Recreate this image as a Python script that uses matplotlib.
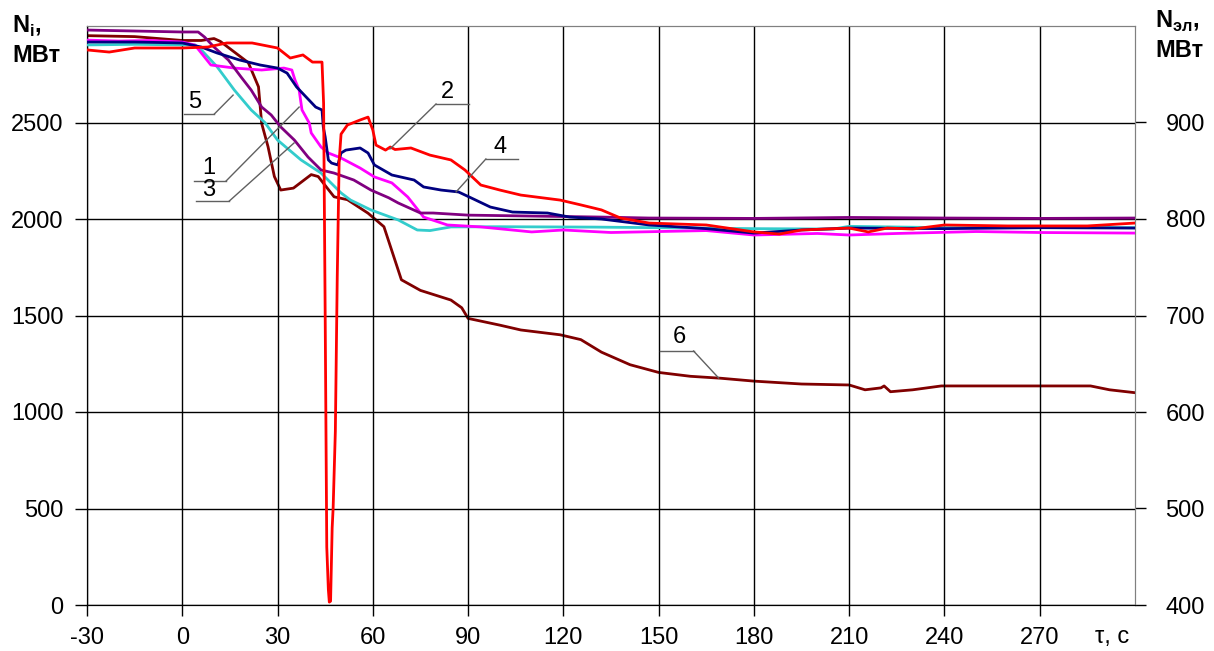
import matplotlib
matplotlib.use("Agg")
import matplotlib.pyplot as plt

plt.rcParams['font.family'] = ['Liberation Sans', 'DejaVu Sans']
plt.rcParams['axes.unicode_minus'] = False
plt.rcParams['mathtext.fontset'] = 'custom'
plt.rcParams['mathtext.rm'] = 'Liberation Sans'
plt.rcParams['mathtext.bf'] = 'Liberation Sans:bold'

# -----------------------------
# Data (time, s / power, MW)
# -----------------------------
# 1 - magenta
t1 = [-30, -20, -10, 0, 4, 9, 16.4, 25, 32, 34.5, 35.5, 36.8, 37.7, 40, 40.6, 43.7, 46, 50, 53,
      56, 60.5, 66, 71, 75, 76, 83.5, 94, 110, 120, 135, 150, 165, 180, 200, 210, 225, 250,
      270, 300]
n1 = [2927, 2922, 2925, 2917, 2901, 2798, 2782, 2772, 2782, 2772, 2720, 2668, 2565, 2497, 2446,
      2373, 2342, 2316, 2290, 2264, 2218, 2187, 2114, 2031, 2010, 1969, 1959, 1933, 1943, 1930,
      1935, 1940, 1917, 1925, 1917, 1925, 1935, 1930, 1927]

# 2 - red
t2 = [-30, -23, -15, 0, 8, 14, 22, 30, 34, 38, 41, 44, 44.5, 45.0, 45.5, 46.0, 46.3, 46.7,
      47.2, 47.5, 48.2, 48.8, 49.4, 50.0, 52, 56, 58.5, 60, 61, 64, 65.5, 67, 72, 78, 84.6,
      89, 94, 100, 106.6, 119, 125.5, 132, 138, 147, 165, 180, 188, 195, 210, 216, 222, 230,
      240, 260, 285, 300]
n2 = [2876, 2865, 2886, 2886, 2891, 2912, 2912, 2886, 2834, 2850, 2813, 2813, 2600, 1500, 300,
      80, 15, 20, 400, 500, 900, 1700, 2300, 2440, 2487, 2513, 2528, 2461, 2383, 2357, 2373,
      2360, 2368, 2331, 2306, 2254, 2176, 2150, 2124, 2098, 2073, 2047, 2005, 1979, 1969, 1933,
      1922, 1943, 1953, 1933, 1953, 1948, 1969, 1964, 1964, 1979]

# 3 - purple
t3 = [-30, -15, 0, 5, 7, 10, 14.5, 18.5, 21.7, 25, 28, 31, 35.3, 39.6, 43.7, 47.8, 54, 59.4,
      65, 68, 75, 79, 90, 132, 147, 180, 210, 240, 270, 300]
n3 = [2979, 2974, 2969, 2969, 2943, 2891, 2824, 2736, 2668, 2580, 2539, 2477, 2409, 2321, 2254,
      2238, 2202, 2150, 2110, 2083, 2031, 2031, 2020, 2010, 2005, 2003, 2008, 2005, 2003, 2005]

# 4 - navy
t4 = [-30, -15, 0, 6, 11, 18, 24.5, 30, 33, 36, 39, 42, 44, 44.4, 45, 46, 47, 49, 50, 51.5,
      56, 58.5, 60.5, 66, 73, 76, 81.5, 87, 91, 97, 104, 115, 122, 132, 147, 165, 180, 195,
      210, 240, 270, 300]
n4 = [2917, 2917, 2912, 2891, 2860, 2824, 2798, 2782, 2756, 2684, 2632, 2580, 2565, 2477, 2425,
      2306, 2290, 2280, 2342, 2357, 2368, 2342, 2280, 2228, 2202, 2166, 2150, 2140, 2109, 2062,
      2036, 2031, 2010, 2000, 1969, 1950, 1927, 1943, 1953, 1950, 1955, 1953]

# 5 - turquoise
t5 = [-30, -15, 0, 4, 6, 11, 16.4, 21.7, 26, 30, 37.4, 43.7, 50, 53, 59.4, 68, 74, 78, 84.6,
      100, 130, 150, 180, 205, 210, 240, 270, 300]
n5 = [2902, 2905, 2902, 2902, 2876, 2788, 2668, 2565, 2500, 2409, 2306, 2238, 2135, 2098, 2047,
      1995, 1943, 1940, 1959, 1960, 1958, 1955, 1950, 1948, 1962, 1955, 1957, 1955]

# 6 - dark red, electric power (right axis)
t6 = [-30, -15, 0, 6, 10, 12, 16.4, 20.8, 24, 25, 27, 29, 31, 35, 40.6, 42.8, 47.8, 52, 58.5,
      63.5, 65.7, 69, 75, 84.6, 88, 90, 100, 106.6, 119, 125.5, 132, 141, 150, 160, 169.5,
      180, 195, 210, 215, 220, 221, 223, 230, 239, 286, 292, 300]
n6 = [990, 989, 985, 985, 987, 984, 973, 962, 937, 899, 875, 844, 830, 832, 846, 844, 823, 820,
      806, 792, 770, 737, 726, 716, 708, 697, 690, 685, 680, 675, 662, 649, 641, 637, 635, 632,
      629, 628, 623, 625, 627, 621, 623, 627, 627, 623, 620]

x_ticks = [-30, 0, 30, 60, 90, 120, 150, 180, 210, 240, 270]
y_ticks_left = [0, 500, 1000, 1500, 2000, 2500]
y_ticks_right = [400, 500, 600, 700, 800, 900]

# curve labels: number, text pos, underline (x0, x1, y), leader end point, leader start at 'l' or 'r'
labels = [
    ("1", (8.2, 2264), (3.8, 13.8, 2197), (36.8, 2580), 'r'),
    ("2", (83.6, 2658), (79.9, 90.3, 2596), (65.4, 2363), 'l'),
    ("3", (8.2, 2150), (4.4, 14.8, 2093), (35.2, 2394), 'r'),
    ("4", (100.0, 2373), (95.6, 105.7, 2311), (86.2, 2140), 'l'),
    ("5", (3.8, 2606), (0.6, 10.1, 2544), (16.0, 2642), 'r'),
    ("6", (156.6, 1389), (150.3, 161.0, 1316), (168.9, 1176), 'r'),
]

# -----------------------------
# Figure
# -----------------------------
W, H = 1214, 651
fig = plt.figure(figsize=(W / 100, H / 100), dpi=100)
ax = fig.add_axes([87 / W, 46 / H, (1135 - 87) / W, (605 - 26) / H])
ax2 = ax.twinx()

ax.set_xlim(-30, 300)
ax.set_ylim(0, 3000)
ax2.set_ylim(400, 1000)

ax.set_xticks(x_ticks)
ax.set_yticks(y_ticks_left)
ax2.set_yticks(y_ticks_right)
ax.grid(True, color='black', lw=1)

for a in (ax, ax2):
    a.spines['top'].set_color('#808080')
    a.spines['right'].set_color('#808080')
    a.spines['left'].set_color('black')
    a.spines['bottom'].set_color('black')

fs = 17
ax.tick_params(axis='x', direction='out', length=8, width=1, labelsize=fs, pad=8)
ax.tick_params(axis='y', direction='out', length=9, width=1, labelsize=fs, pad=8)
ax2.tick_params(axis='y', direction='out', length=8, width=1, labelsize=fs, pad=14)

lw = 2.0
ax2.plot(t6, n6, color='#800000', lw=lw, zorder=2)
ax.plot(t5, n5, color='#33CCCC', lw=lw, zorder=3)
ax.plot(t1, n1, color='#FF00FF', lw=lw, zorder=3)
ax.plot(t3, n3, color='#800080', lw=lw, zorder=3)
ax.plot(t4, n4, color='#000080', lw=lw, zorder=3)
ax.plot(t2, n2, color='#FF0000', lw=lw, zorder=4)
ax.set_zorder(ax2.get_zorder() + 1)
ax.patch.set_visible(False)

for num, (tx, ty), (ux0, ux1, uy), (ex, ey), side in labels:
    ax.text(tx, ty, num, fontsize=fs, ha='center', va='center', zorder=6)
    ax.plot([ux0, ux1], [uy, uy], color='#606060', lw=1, zorder=5)
    sx = ux1 if side == 'r' else ux0
    ax.plot([sx, ex], [uy, ey], color='#606060', lw=1, zorder=5)

# axis captions
fig.text(12 / W, 1 - 33 / H, r'N$_{\mathbf{i}}$,', fontsize=fs, fontweight='bold', ha='left', va='baseline')
fig.text(12 / W, 1 - 62 / H, 'МВт', fontsize=fs, fontweight='bold', ha='left', va='baseline')
fig.text(1155 / W, 1 - 28 / H, r'N$_{\mathbf{эл}}$,', fontsize=fs, fontweight='bold', ha='left', va='baseline')
fig.text(1155 / W, 1 - 57 / H, 'МВт', fontsize=fs, fontweight='bold', ha='left', va='baseline')
fig.text(1095 / W, 1 - 643 / H, 'τ, с', fontsize=fs, ha='left', va='baseline')

fig.savefig('out.png', dpi=100)
